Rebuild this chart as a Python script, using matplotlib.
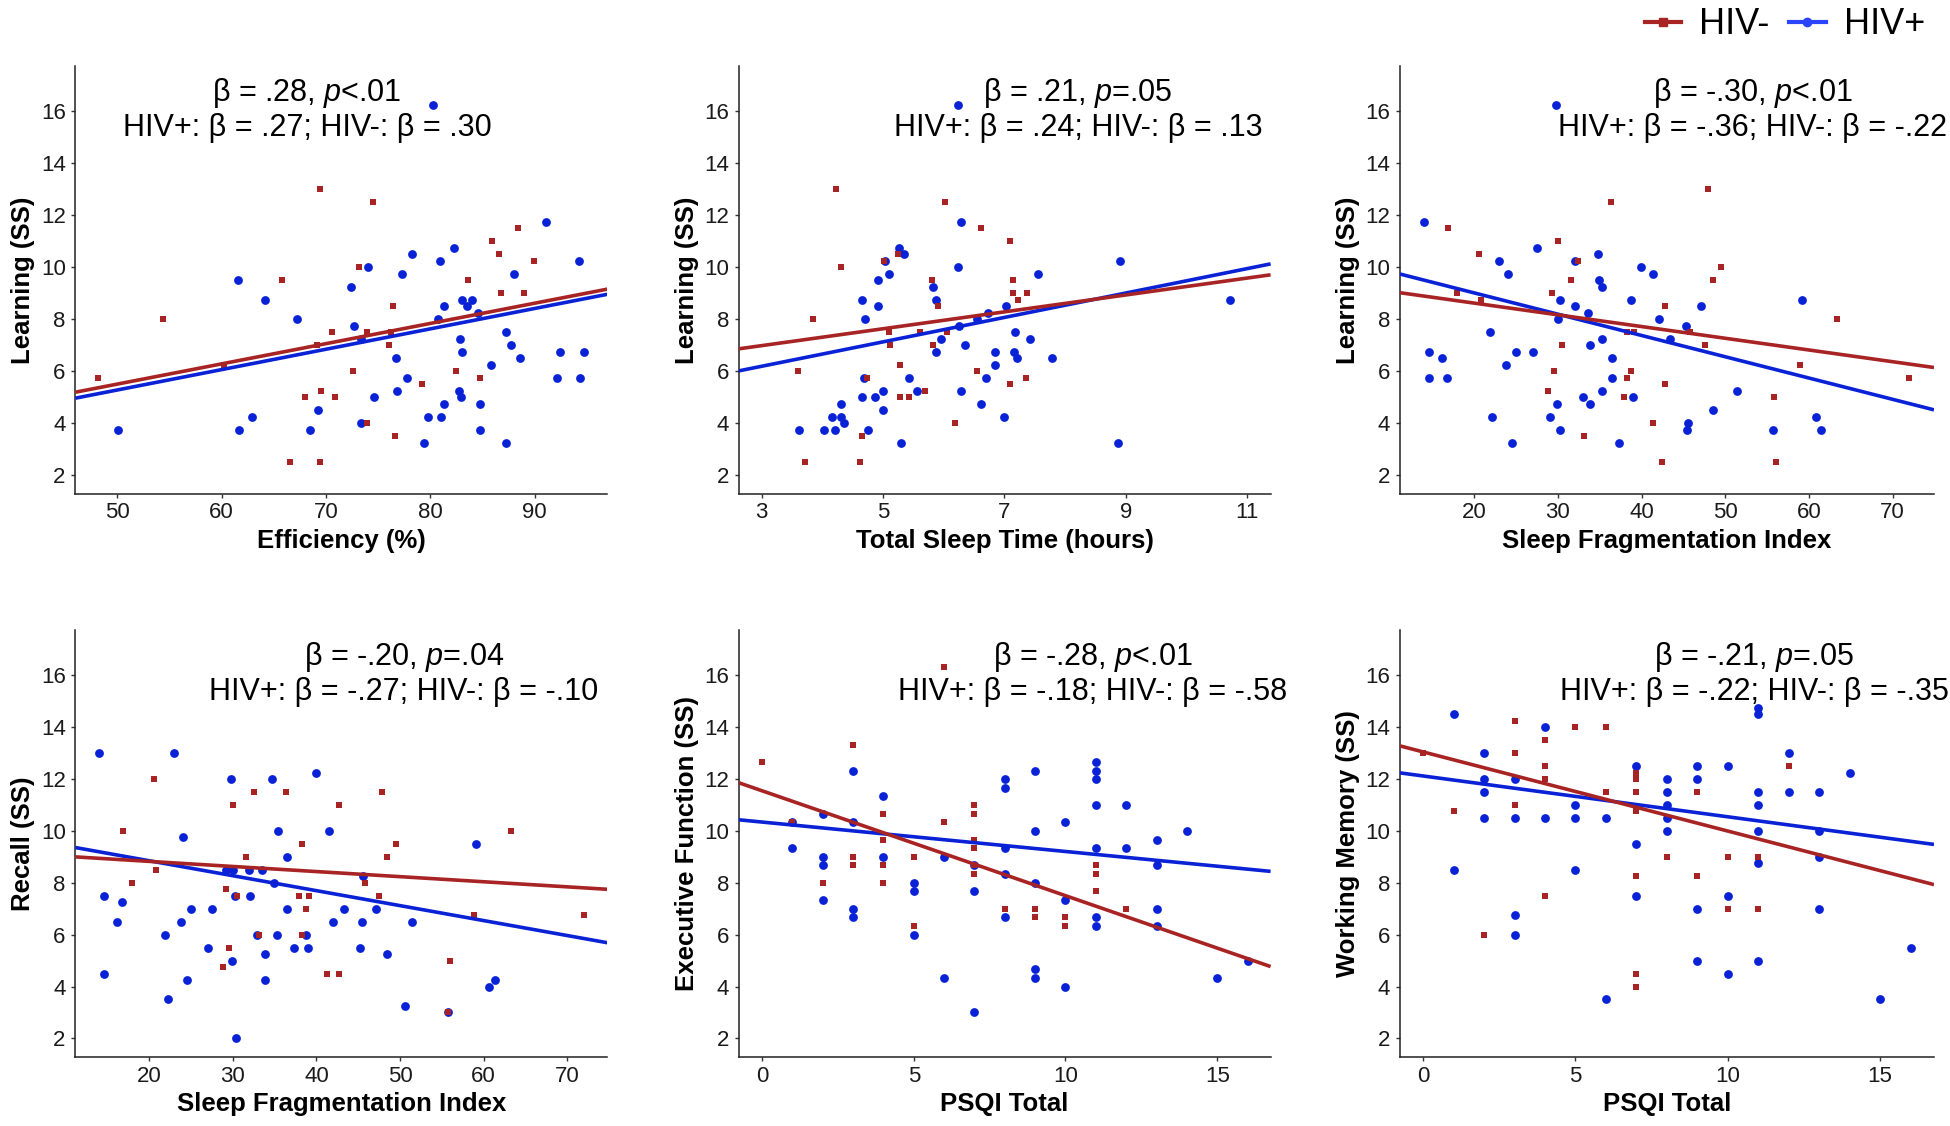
import matplotlib
matplotlib.use("Agg")
import matplotlib.pyplot as plt
from matplotlib.lines import Line2D
import numpy as np

plt.rcParams['font.family'] = ['Liberation Sans', 'DejaVu Sans']
plt.rcParams['mathtext.fontset'] = 'custom'
plt.rcParams['mathtext.rm'] = 'Liberation Sans'
plt.rcParams['mathtext.it'] = 'Liberation Sans:italic'

# ---------------- DATA ----------------
# Panel 1: Efficiency (%) vs Learning
eff_neg_x = [48.2, 54.4, 60.2, 65.8, 66.6, 68.0, 69.1, 69.4, 69.4, 69.5, 70.6, 70.9, 72.6, 73.2, 73.9, 73.9,
             74.5, 76.0, 76.2, 76.4, 76.6, 79.2, 82.5, 83.6, 84.8, 85.9, 86.6, 86.8, 88.4, 89.0, 89.9]
eff_neg_y = [5.75, 8.0, 6.25, 9.5, 2.5, 5.0, 7.0, 13.0, 2.5, 5.25, 7.5, 5.0, 6.0, 10.0, 7.5, 4.0,
             12.5, 7.0, 7.5, 8.5, 3.5, 5.5, 6.0, 9.5, 5.75, 11.0, 10.5, 9.0, 11.5, 9.0, 10.25]
eff_pos_x = [50.1, 61.6, 61.7, 62.9, 64.2, 67.2, 68.5, 69.2, 72.4, 72.7, 73.4, 73.4, 74.0, 74.6, 76.7, 76.8,
             77.3, 77.8, 78.2, 79.4, 79.8, 80.3, 80.7, 80.9, 81.0, 81.3, 81.3, 82.3, 82.7, 82.8, 82.9, 83.0,
             83.0, 83.5, 84.0, 84.6, 84.8, 84.8, 85.8, 87.2, 87.2, 87.7, 88.0, 88.6, 91.1, 92.1, 92.4, 94.2,
             94.3, 94.7]
eff_pos_y = [3.75, 9.5, 3.75, 4.25, 8.75, 8.0, 3.75, 4.5, 9.25, 7.75, 7.25, 4.0, 10.0, 5.0, 6.5, 5.25,
             9.75, 5.75, 10.5, 3.25, 4.25, 16.25, 8.0, 10.25, 4.25, 8.5, 4.75, 10.75, 5.25, 7.25, 5.0, 8.75,
             6.75, 8.5, 8.75, 8.25, 4.75, 3.75, 6.25, 7.5, 3.25, 7.0, 9.75, 6.5, 11.75, 5.75, 6.75, 10.25,
             5.75, 6.75]

# Panel 2: Total Sleep Time (hours) vs Learning
tst_neg_x = [3.59, 3.71, 3.85, 4.23, 4.30, 4.62, 4.66, 4.74, 5.01, 5.09, 5.11, 5.25, 5.28, 5.28, 5.42, 5.61,
             5.69, 5.80, 5.82, 5.91, 6.02, 6.06, 6.19, 6.55, 6.61, 7.10, 7.10, 7.14, 7.15, 7.23, 7.37, 7.36]
tst_neg_y = [6.0, 2.5, 8.0, 13.0, 10.0, 2.5, 3.5, 5.75, 10.25, 7.5, 7.0, 10.5, 6.25, 5.0, 5.0, 7.5,
             5.25, 9.5, 7.0, 8.5, 12.5, 7.5, 4.0, 6.0, 11.5, 11.0, 5.5, 9.5, 9.0, 8.75, 9.0, 5.75]
tst_pos_x = [3.62, 4.03, 4.16, 4.20, 4.30, 4.30, 4.35, 4.65, 4.66, 4.68, 4.70, 4.76, 4.87, 4.91, 4.91, 5.00,
             5.00, 5.04, 5.09, 5.26, 5.30, 5.34, 5.43, 5.56, 5.82, 5.87, 5.88, 5.95, 6.23, 6.23, 6.25, 6.28,
             6.28, 6.35, 6.55, 6.62, 6.70, 6.73, 6.84, 6.85, 6.99, 7.03, 7.16, 7.18, 7.21, 7.43, 7.56, 7.78,
             8.87, 8.90, 10.72]
tst_pos_y = [3.75, 3.75, 4.25, 3.75, 4.75, 4.25, 4.0, 8.75, 5.0, 5.75, 8.0, 3.75, 5.0, 9.5, 8.5, 4.5,
             5.25, 10.25, 9.75, 10.75, 3.25, 10.5, 5.75, 5.25, 9.25, 8.75, 6.75, 7.25, 10.0, 16.25, 7.75, 11.75,
             5.25, 7.0, 8.0, 4.75, 5.75, 8.25, 6.25, 6.75, 4.25, 8.5, 6.75, 7.5, 6.5, 7.25, 9.75, 6.5,
             3.25, 10.25, 8.75]

# Panel 3: Sleep Fragmentation Index vs Learning
sfl_neg_x = [16.9, 18.0, 20.6, 20.8, 28.8, 29.3, 29.6, 30.0, 30.5, 31.6, 32.4, 33.1, 36.4, 37.9, 38.3, 38.3,
             38.7, 39.1, 41.4, 42.4, 42.8, 42.8, 45.8, 47.6, 47.9, 48.5, 49.5, 55.8, 56.1, 58.9, 63.3, 72.0]
sfl_neg_y = [11.5, 9.0, 10.5, 8.75, 5.25, 9.0, 6.0, 11.0, 7.0, 9.5, 10.25, 3.5, 12.5, 5.0, 5.75, 7.5,
             6.0, 7.5, 4.0, 2.5, 8.5, 5.5, 7.5, 7.0, 13.0, 9.5, 10.0, 5.0, 2.5, 6.25, 8.0, 5.75]
sfl_pos_x = [14.0, 14.6, 14.6, 16.2, 16.8, 21.9, 22.1, 23.0, 23.8, 24.0, 24.5, 25.0, 27.0, 27.5, 29.1, 29.8,
             29.9, 30.0, 30.2, 30.3, 32.0, 32.1, 33.0, 33.6, 33.9, 33.9, 34.8, 34.9, 35.3, 35.3, 35.3, 36.5,
             36.5, 37.3, 38.7, 39.0, 39.9, 41.4, 42.1, 43.4, 45.3, 45.4, 45.6, 47.1, 48.5, 51.4, 55.7, 59.2,
             60.8, 61.5]
sfl_pos_y = [11.75, 6.75, 5.75, 6.5, 5.75, 7.5, 4.25, 10.25, 6.25, 9.75, 3.25, 6.75, 6.75, 10.75, 4.25, 16.25,
             4.75, 8.0, 8.75, 3.75, 8.5, 10.25, 5.0, 8.25, 7.0, 4.75, 10.5, 9.5, 7.25, 9.25, 5.25, 6.5,
             5.75, 3.25, 8.75, 5.0, 10.0, 9.75, 8.0, 7.25, 7.75, 3.75, 4.0, 8.5, 4.5, 5.25, 3.75, 8.75,
             4.25, 3.75]

# Panel 4: Sleep Fragmentation Index vs Recall
sfr_neg_x = [16.9, 17.97, 20.6, 20.8, 28.8, 29.2, 29.6, 30.0, 30.5, 31.6, 32.5, 33.1, 36.4, 37.9, 38.3, 38.3,
             38.7, 39.1, 41.3, 42.7, 42.7, 45.8, 47.5, 47.8, 48.4, 49.5, 55.7, 56.0, 58.8, 63.25, 72.0]
sfr_neg_y = [10.0, 8.0, 12.0, 8.5, 4.75, 7.75, 5.5, 11.0, 7.5, 9.0, 11.5, 6.0, 11.5, 7.5, 6.0, 9.5,
             7.0, 7.5, 4.5, 11.0, 4.5, 8.0, 7.5, 11.5, 9.0, 9.5, 3.0, 5.0, 6.75, 10.0, 6.75]
sfr_pos_x = [13.95, 14.6, 14.6, 16.2, 16.8, 21.9, 22.2, 23.0, 23.8, 24.0, 24.5, 25.0, 27.0, 27.5, 29.2, 29.8,
             29.9, 30.0, 30.3, 30.4, 31.95, 32.05, 32.9, 33.5, 33.8, 33.8, 34.7, 34.9, 35.3, 35.4, 36.5, 36.5,
             37.3, 38.7, 39.0, 39.9, 41.5, 42.0, 43.3, 45.25, 45.4, 45.6, 47.1, 48.4, 50.65, 51.4, 55.7, 59.1,
             60.7, 61.4]
sfr_pos_y = [13.0, 7.5, 4.5, 6.5, 7.25, 6.0, 3.5, 13.0, 6.5, 9.75, 4.25, 7.0, 5.5, 7.0, 8.5, 12.0,
             5.0, 8.5, 7.5, 2.0, 8.5, 7.5, 6.0, 8.5, 5.25, 4.25, 12.0, 8.0, 6.0, 10.0, 9.0, 7.0,
             5.5, 6.0, 5.5, 12.25, 10.0, 6.5, 7.0, 5.5, 6.5, 8.25, 7.0, 5.25, 3.25, 6.5, 3.0, 9.5,
             4.0, 4.25]

# Panel 5: PSQI Total vs Executive Function
pex_neg_x = [0, 1, 2, 3, 3, 3, 4, 4, 4, 4, 5, 5, 6, 6, 7, 7, 7, 7, 7, 7, 8, 9, 9, 10, 10, 11, 11, 11, 12]
pex_neg_y = [12.67, 10.33, 8.0, 13.33, 9.0, 8.67, 10.67, 9.67, 8.67, 8.0, 9.0, 6.33, 16.33, 10.33, 11.0, 10.67,
             9.67, 9.33, 8.67, 8.33, 7.0, 7.0, 6.67, 6.67, 6.33, 8.67, 8.33, 7.67, 7.0]
pex_pos_x = [1, 1, 2, 2, 2, 2, 3, 3, 3, 3, 4, 4, 5, 5, 5, 6, 6, 7, 7, 7, 8, 8, 8, 8, 8, 9, 9, 9, 9, 9,
             10, 10, 10, 11, 11, 11, 11, 11, 11, 11, 12, 12, 13, 13, 13, 13, 14, 15, 16]
pex_pos_y = [9.33, 10.33, 10.67, 9.0, 8.67, 7.33, 12.33, 10.33, 7.0, 6.67, 11.33, 9.0, 8.0, 7.67, 6.0, 9.0, 4.33,
             8.67, 7.67, 3.0, 12.0, 11.67, 9.33, 8.33, 6.67, 12.33, 10.0, 8.0, 4.67, 4.33,
             10.33, 7.33, 4.0, 12.67, 12.33, 12.0, 11.0, 9.33, 6.67, 6.33, 11.0, 9.33, 9.67, 8.67, 7.0, 6.33,
             10.0, 4.33, 5.0]

# Panel 6: PSQI Total vs Working Memory
pwm_neg_x = [0, 1, 2, 3, 3, 3, 4, 4, 4, 4, 5, 6, 6, 7, 7, 7, 7, 7, 7, 7, 8, 9, 9, 10, 10, 11, 11, 12]
pwm_neg_y = [13.0, 10.75, 6.0, 14.25, 13.0, 11.0, 13.5, 12.5, 12.0, 7.5, 14.0, 14.0, 11.5, 12.25, 12.0, 11.5,
             10.75, 8.25, 4.5, 4.0, 9.0, 11.5, 8.25, 9.0, 7.0, 9.0, 7.0, 12.5]
pwm_pos_x = [1, 1, 2, 2, 2, 2, 3, 3, 3, 3, 4, 4, 5, 5, 5, 6, 6, 7, 7, 7, 8, 8, 8, 8, 8, 9, 9, 9, 9,
             10, 10, 10, 11, 11, 11, 11, 11, 11, 11, 12, 12, 13, 13, 13, 13, 14, 15, 16]
pwm_pos_y = [14.5, 8.5, 13.0, 12.0, 11.5, 10.5, 12.0, 10.5, 6.75, 6.0, 14.0, 10.5, 11.0, 10.5, 8.5, 10.5, 3.5,
             12.5, 9.5, 7.5, 12.0, 11.5, 11.0, 10.5, 10.0, 12.5, 12.0, 7.0, 5.0,
             12.5, 7.5, 4.5, 14.75, 14.5, 11.5, 11.0, 10.0, 8.75, 5.0, 13.0, 11.5, 11.5, 10.0, 9.0, 7.0,
             12.25, 3.5, 5.5]

# Regression fits: (intercept, slope)
fit_eff = {'neg': (1.606, 0.0779), 'pos': (1.349, 0.0785)}
fit_tst = {'neg': (6.008, 0.325), 'pos': (4.779, 0.4698)}
fit_sfl = {'neg': (9.523, -0.04513), 'pos': (10.653, -0.08196)}
fit_sfr = {'neg': (9.219, -0.01964), 'pos': (10.004, -0.05768)}
fit_pex = {'neg': (11.549, -0.4045), 'pos': (10.343, -0.1135)}
fit_pwm = {'neg': (13.048, -0.3052), 'pos': (12.120, -0.1574)}

x_labels = ['Efficiency (%)', 'Total Sleep Time (hours)', 'Sleep Fragmentation Index',
            'Sleep Fragmentation Index', 'PSQI Total', 'PSQI Total']
y_labels = ['Learning (SS)', 'Learning (SS)', 'Learning (SS)',
            'Recall (SS)', 'Executive Function (SS)', 'Working Memory (SS)']
x_ticks = [[50, 60, 70, 80, 90], [3, 5, 7, 9, 11], [20, 30, 40, 50, 60, 70],
           [20, 30, 40, 50, 60, 70], [0, 5, 10, 15], [0, 5, 10, 15]]
y_ticks = [2, 4, 6, 8, 10, 12, 14, 16]
overall_text = [('.28', '<.01'), ('.21', '=.05'), ('-.30', '<.01'),
                ('-.20', '=.04'), ('-.28', '<.01'), ('-.21', '=.05')]
group_text = [('.27', '.30'), ('.24', '.13'), ('-.36', '-.22'),
              ('-.27', '-.10'), ('-.18', '-.58'), ('-.22', '-.35')]
legend_labels = ['HIV-', 'HIV+']

# ---------------- LAYOUT / STYLE ----------------
W, H = 1950, 1126
RED = '#A82424'
BLUE = '#0A22D6'
BLUE_LEG = '#2B45FF'

panels = [
    (eff_neg_x, eff_neg_y, eff_pos_x, eff_pos_y, fit_eff, (46.0, 96.95)),
    (tst_neg_x, tst_neg_y, tst_pos_x, tst_pos_y, fit_tst, (2.62, 11.39)),
    (sfl_neg_x, sfl_neg_y, sfl_pos_x, sfl_pos_y, fit_sfl, (11.14, 74.95)),
    (sfr_neg_x, sfr_neg_y, sfr_pos_x, sfr_pos_y, fit_sfr, (11.17, 74.8)),
    (pex_neg_x, pex_neg_y, pex_pos_x, pex_pos_y, fit_pex, (-0.77, 16.76)),
    (pwm_neg_x, pwm_neg_y, pwm_pos_x, pwm_pos_y, fit_pwm, (-0.76, 16.77)),
]
# axes boxes in pixels: left, right, top, bottom
boxes = [(75.4, 607.3, 66, 494), (738.7, 1270.6, 66, 494), (1400, 1934, 66, 494),
         (75.4, 607.3, 630, 1057.3), (738.7, 1270.6, 630, 1057.3), (1400, 1934, 630, 1057.3)]
# annotation centre positions in pixels (x, y line1, y line2)
ann = [(307, 93, 128), (1078, 93, 128), (1753, 93, 128),
       (404, 657, 692), (1093, 657, 692), (1754, 657, 692)]

fig = plt.figure(figsize=(W / 100, H / 100), dpi=100)

for i, (nx, ny, px, py, fit, xl) in enumerate(panels):
    l, r, t, b = boxes[i]
    ax = fig.add_axes([l / W, 1 - b / H, (r - l) / W, (b - t) / H])
    ax.scatter(px, py, s=40, marker='o', color=BLUE, linewidths=0, zorder=2)
    ax.scatter(nx, ny, s=24, marker='s', color=RED, linewidths=0, zorder=3)
    xs = np.array(xl)
    for key, col, z in (('pos', BLUE, 4), ('neg', RED, 5)):
        a, bslope = fit[key]
        ax.plot(xs, a + bslope * xs, color=col, lw=2.6, zorder=z, solid_capstyle='butt')
    ax.set_xlim(*xl)
    ax.set_ylim(1.27, 17.75)
    ax.set_xticks(x_ticks[i])
    ax.set_yticks(y_ticks)
    for s in ('top', 'right'):
        ax.spines[s].set_visible(False)
    for s in ('left', 'bottom'):
        ax.spines[s].set_linewidth(1.1)
        ax.spines[s].set_color('#222222')
    ax.tick_params(axis='both', length=3, width=1.0, color='#333333',
                   labelsize=16, labelcolor='#1a1a1a')
    ax.tick_params(axis='x', pad=3)
    ax.tick_params(axis='y', pad=4)
    ax.set_xlabel(x_labels[i], fontsize=18.5, fontweight='bold', labelpad=4)
    ax.set_ylabel(y_labels[i], fontsize=18.5, fontweight='bold', labelpad=4)

    cx, y1, y2 = ann[i]
    beta, pv = overall_text[i]
    fig.text(cx / W, 1 - y1 / H, 'β = ' + beta + r', $\mathit{p}$' + pv,
             ha='center', va='center', fontsize=22, color='black')
    gp, gn = group_text[i]
    fig.text(cx / W, 1 - y2 / H, 'HIV+: β = ' + gp + '; HIV-: β = ' + gn,
             ha='center', va='center', fontsize=22, color='black')

handles = [Line2D([0], [0], color=RED, lw=3, marker='s', markersize=6),
           Line2D([0], [0], color=BLUE_LEG, lw=3, marker='o', markersize=6)]
fig.legend(handles, legend_labels, loc='center left', bbox_to_anchor=(1645 / W, 1 - 25 / H),
           ncol=2, frameon=False, fontsize=26, handlelength=1.0, handletextpad=0.5,
           columnspacing=0.55, borderpad=0, borderaxespad=0)

fig.savefig('out.png', dpi=100)
